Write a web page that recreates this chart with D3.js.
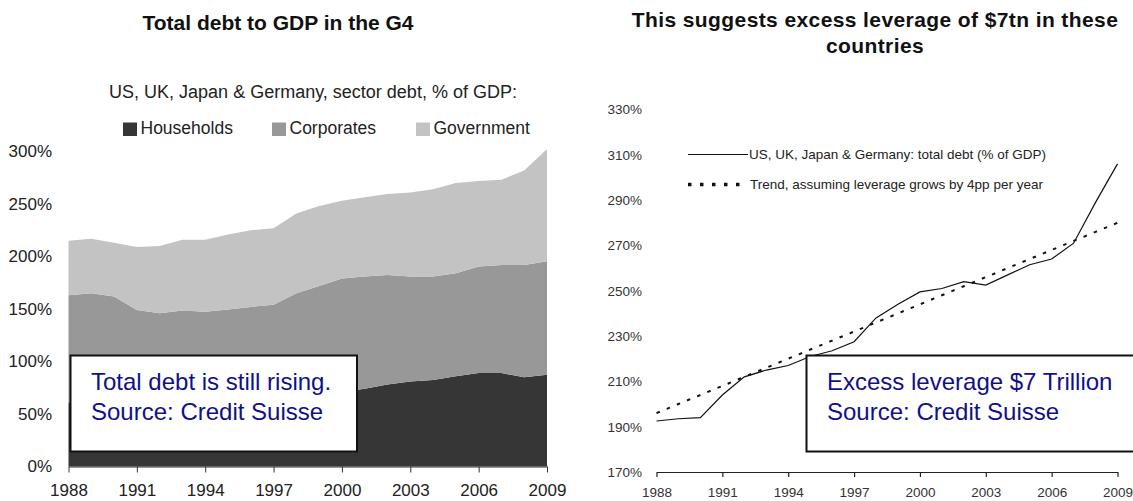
<!DOCTYPE html>
<html>
<head>
<meta charset="utf-8">
<script src="https://cdn.jsdelivr.net/npm/d3@7"></script>
<style>
  html, body { margin: 0; padding: 0; background: #fff; }
  svg { display: block; font-family: "Liberation Sans", Arial, sans-serif; }
</style>
</head>
<body>
<svg id="chart" width="1133" height="501"></svg>
<script>
// ---- Data -------------------------------------------------------------
const years = d3.range(1988, 2010);

// Sector debt, % of GDP (US, UK, Japan & Germany)
const households = [61, 62, 62, 62, 62, 63, 63, 64, 65, 66, 67, 69, 71, 74, 78, 81, 82.5, 86, 89, 89, 85, 87.5];
const corporates = [102, 103, 100, 87, 84, 85.5, 84.5, 85.5, 87, 88, 98, 103, 108, 107, 104.5, 100, 98.5, 98, 101.5, 103, 107, 108];
const government = [52, 52, 51, 60, 64, 67.5, 68.5, 71.5, 73, 73, 76, 76, 74, 75.5, 77, 80, 83, 86, 81.5, 81, 90, 107];

// Total debt, % of GDP, and the 4pp-per-year trend
const totalDebt = [192.5, 193.5, 194, 204, 212, 215, 217, 221, 223.5, 227.5, 238, 244, 249.5, 251, 254, 252.5, 257, 261.5, 264, 271, 289, 306];
const trend = [196, 200, 204, 208, 212, 216, 220, 224, 228, 232, 236, 240, 244, 248, 252, 256, 260, 264, 268, 272, 276, 280];

const yearTicks = [1988, 1991, 1994, 1997, 2000, 2003, 2006, 2009];
const leftYTicks = [0, 50, 100, 150, 200, 250, 300];
const rightYTicks = [170, 190, 210, 230, 250, 270, 290, 310, 330];

const sectors = ["households", "corporates", "government"];
const sectorNames = { households: "Households", corporates: "Corporates", government: "Government" };
const sectorColors = { households: "#363636", corporates: "#989898", government: "#c3c3c3" };

const svg = d3.select("#chart");
const pct = d => d + "%";

// ---- Left panel: stacked area ----------------------------------------
const left = svg.append("g");
const xL = d3.scaleLinear().domain([1988, 2009]).range([68.5, 547]);
const yL = d3.scaleLinear().domain([0, 300]).range([466.5, 151.5]);

const rows = years.map((yr, i) => ({
  year: yr,
  households: households[i],
  corporates: corporates[i],
  government: government[i]
}));
const stacked = d3.stack().keys(sectors)(rows);
const area = d3.area()
  .x(d => xL(d.data.year))
  .y0(d => yL(d[0]))
  .y1(d => yL(d[1]));

left.selectAll("path.layer")
  .data(stacked)
  .join("path")
  .attr("class", "layer")
  .attr("d", area)
  .attr("fill", d => sectorColors[d.key]);

left.append("text")
  .attr("x", 278).attr("y", 30)
  .attr("text-anchor", "middle")
  .attr("font-size", 21).attr("font-weight", "bold")
  .attr("fill", "#111")
  .text("Total debt to GDP in the G4");

left.append("text")
  .attr("x", 313).attr("y", 98)
  .attr("text-anchor", "middle")
  .attr("font-size", 18)
  .attr("fill", "#222")
  .text("US, UK, Japan & Germany, sector debt, % of GDP:");

// legend
const legendX = [123, 272, 416];
const lg = left.selectAll("g.lg")
  .data(sectors)
  .join("g")
  .attr("class", "lg")
  .attr("transform", (d, i) => `translate(${legendX[i]},0)`);
lg.append("rect")
  .attr("x", 0).attr("y", 122.5).attr("width", 14).attr("height", 13.5)
  .attr("fill", d => sectorColors[d]);
lg.append("text")
  .attr("x", 17.5).attr("y", 133.5)
  .attr("font-size", 17.5).attr("fill", "#222")
  .text(d => sectorNames[d]);

// axes
const xAxisL = left.append("g")
  .attr("transform", `translate(0,${yL(0)})`)
  .call(d3.axisBottom(xL).tickValues(yearTicks).tickFormat(d3.format("d")).tickSize(6).tickSizeOuter(0).tickPadding(11));
xAxisL.select(".domain").attr("stroke", "#333");
xAxisL.selectAll(".tick line").attr("stroke", "#333");
xAxisL.selectAll("text").attr("font-size", 17).attr("fill", "#222").attr("font-family", "Liberation Sans, Arial, sans-serif");

const yAxisL = left.append("g")
  .attr("transform", "translate(56,0)")
  .call(d3.axisLeft(yL).tickValues(leftYTicks).tickFormat(pct).tickSize(0).tickPadding(4));
yAxisL.select(".domain").remove();
yAxisL.selectAll("text").attr("font-size", 17).attr("fill", "#222").attr("font-family", "Liberation Sans, Arial, sans-serif");

// annotation box
left.append("rect")
  .attr("x", 70.5).attr("y", 355.5).attr("width", 286.5).attr("height", 96)
  .attr("fill", "#fff").attr("stroke", "#111").attr("stroke-width", 2);
left.append("text")
  .attr("x", 91).attr("y", 389.5)
  .attr("font-size", 24).attr("fill", "#10108a")
  .text("Total debt is still rising.");
left.append("text")
  .attr("x", 91).attr("y", 419.5)
  .attr("font-size", 24).attr("fill", "#10108a")
  .text("Source: Credit Suisse");

// ---- Right panel: total debt vs trend ---------------------------------
const right = svg.append("g");
const xR = d3.scaleLinear().domain([1988, 2009]).range([656.5, 1117.5]);
const yR = d3.scaleLinear().domain([170, 330]).range([472, 109.5]);

right.append("text")
  .attr("x", 875).attr("y", 27)
  .attr("text-anchor", "middle")
  .attr("font-size", 21).attr("font-weight", "bold")
  .attr("letter-spacing", 0.4)
  .attr("fill", "#111")
  .text("This suggests excess leverage of $7tn in these");
right.append("text")
  .attr("x", 875).attr("y", 53)
  .attr("text-anchor", "middle")
  .attr("font-size", 21).attr("font-weight", "bold")
  .attr("letter-spacing", 0.4)
  .attr("fill", "#111")
  .text("countries");

const yAxisR = right.append("g")
  .attr("transform", "translate(646,0)")
  .call(d3.axisLeft(yR).tickValues(rightYTicks).tickFormat(pct).tickSize(0).tickPadding(4));
yAxisR.select(".domain").remove();
yAxisR.selectAll("text").attr("font-size", 13.5).attr("fill", "#333").attr("font-family", "Liberation Sans, Arial, sans-serif");

const xAxisR = right.append("g")
  .attr("transform", `translate(0,${yR(170)})`)
  .call(d3.axisBottom(xR).tickValues(yearTicks).tickFormat(d3.format("d")).tickSize(5).tickSizeOuter(0).tickPadding(10));
xAxisR.select(".domain").attr("stroke", "#222").attr("stroke-width", 1.2);
xAxisR.selectAll(".tick line").attr("stroke", "#222").attr("stroke-width", 1.2);
xAxisR.selectAll("text").attr("font-size", 13.5).attr("fill", "#333").attr("font-family", "Liberation Sans, Arial, sans-serif");

const line = d3.line().x((d, i) => xR(years[i])).y(d => yR(d));

right.append("path")
  .datum(trend)
  .attr("d", line)
  .attr("fill", "none")
  .attr("stroke", "#111")
  .attr("stroke-width", 2)
  .attr("stroke-dasharray", "3.5,7.5");

right.append("path")
  .datum(totalDebt)
  .attr("d", line)
  .attr("fill", "none")
  .attr("stroke", "#111")
  .attr("stroke-width", 1.2);

// legend
right.append("line")
  .attr("x1", 688).attr("x2", 748).attr("y1", 154.5).attr("y2", 154.5)
  .attr("stroke", "#111").attr("stroke-width", 1.2);
right.append("text")
  .attr("x", 749).attr("y", 159)
  .attr("font-size", 13.5).attr("fill", "#222")
  .text("US, UK, Japan & Germany: total debt (% of GDP)");
right.append("line")
  .attr("x1", 688).attr("x2", 740).attr("y1", 184.5).attr("y2", 184.5)
  .attr("stroke", "#111").attr("stroke-width", 3.5)
  .attr("stroke-dasharray", "3.5,8.5");
right.append("text")
  .attr("x", 750).attr("y", 189)
  .attr("font-size", 13.5).attr("fill", "#222")
  .text("Trend, assuming leverage grows by 4pp per year");

// annotation box
right.append("rect")
  .attr("x", 806.5).attr("y", 355.5).attr("width", 340).attr("height", 96)
  .attr("fill", "#fff").attr("stroke", "#111").attr("stroke-width", 2);
right.append("text")
  .attr("x", 827).attr("y", 389.5)
  .attr("font-size", 24).attr("fill", "#10108a")
  .text("Excess leverage $7 Trillion");
right.append("text")
  .attr("x", 827).attr("y", 419.5)
  .attr("font-size", 24).attr("fill", "#10108a")
  .text("Source: Credit Suisse");
</script>
</body>
</html>
